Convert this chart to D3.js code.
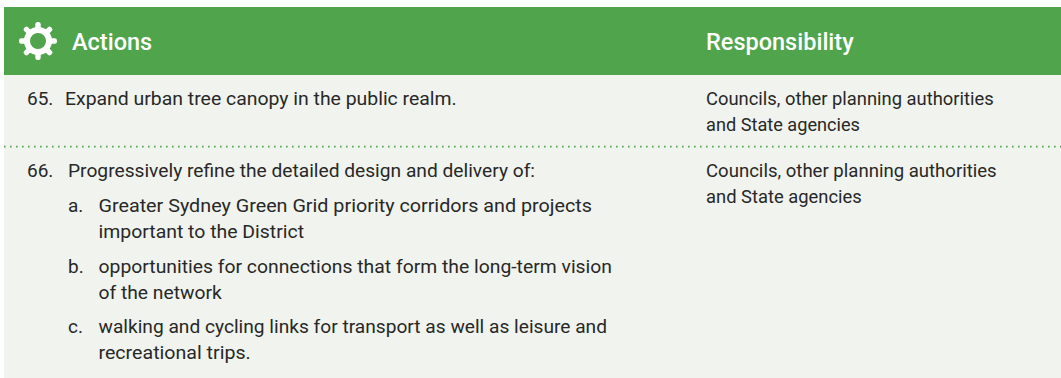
<!DOCTYPE html>
<html>
<head>
<meta charset="utf-8">
<script src="https://cdn.jsdelivr.net/npm/d3@7"></script>
<style>
  html, body { margin: 0; padding: 0; background: #fff; }
  text { font-family: "Roboto", sans-serif; }
</style>
</head>
<body>
<div id="chart"></div>
<script>
// table content
const headers = ['Actions', 'Responsibility'];
const rowNumbers = ['65.', '66.'];
const rowActions = [
  'Expand urban tree canopy in the public realm.',
  'Progressively refine the detailed design and delivery of:',
];
const subLetters = ['a.', 'b.', 'c.'];
const subItems = [
  ['Greater Sydney Green Grid priority corridors and projects', 'important to the District'],
  ['opportunities for connections that form the long-term vision', 'of the network'],
  ['walking and cycling links for transport as well as leisure and', 'recreational trips.'],
];
const responsibility = ['Councils, other planning authorities', 'and State agencies'];

// right edges of the lines, measured on the reference
const rowActionEnds = [456.7, 535];
const subItemEnds = [[592, 304], [612, 221.7], [607, 250.7]];
const responsibilityEnds = [[993.7, 860], [996.7, 861.7]];

const W = 1061, H = 378;
const green = '#50a44b', bg = '#f1f3ee', ink = '#272827';
const fontSize = 19, lineH = 26;

const svg = d3.select('#chart').append('svg')
  .attr('width', W).attr('height', H)
  .style('display', 'block');

svg.append('rect').attr('x', 4).attr('y', 7).attr('width', W - 4).attr('height', H - 7).attr('fill', bg);
svg.append('rect').attr('x', 4).attr('y', 7).attr('width', W - 4).attr('height', 68).attr('fill', green);

// gear icon
const gear = svg.append('g').attr('transform', 'translate(38,41)');
gear.selectAll('rect').data(d3.range(8)).enter().append('rect')
  .attr('x', -2.7).attr('y', -19).attr('width', 5.4).attr('height', 9).attr('rx', 2.2)
  .attr('fill', '#fff')
  .attr('transform', d => `rotate(${d * 45})`);
gear.append('circle').attr('r', 11).attr('fill', 'none').attr('stroke', '#fff').attr('stroke-width', 6);

// header
svg.selectAll('.head').data(headers).enter().append('text')
  .attr('class', 'head')
  .attr('x', (d, i) => i === 0 ? 72 : 706)
  .attr('y', 50)
  .attr('font-size', 23.5).attr('font-weight', 500).attr('fill', '#fff')
  .text(d => d);

// dotted separator
svg.append('line').attr('x1', 4).attr('x2', W).attr('y1', 146.6).attr('y2', 146.6)
  .attr('stroke', green).attr('stroke-width', 1.6)
  .attr('stroke-dasharray', '1.6 4.4');

const addText = (x, y, s, end) => {
  const t = svg.append('text').attr('x', x).attr('y', y)
    .attr('font-size', fontSize).attr('fill', ink).text(s);
  if (end) t.attr('textLength', end - x).attr('lengthAdjust', 'spacingAndGlyphs');
};

const rowY = [105, 177];
const rowX = [65, 68];
rowNumbers.forEach((n, i) => {
  addText(27, rowY[i], n);
  addText(rowX[i], rowY[i], rowActions[i], rowActionEnds[i]);
  responsibility.forEach((s, j) => addText(706, rowY[i] + j * lineH, s, responsibilityEnds[i][j]));
});

const subY = [212, 273, 333];
subLetters.forEach((l, i) => {
  addText(68, subY[i], l);
  subItems[i].forEach((s, j) => addText(98.5, subY[i] + j * lineH, s, subItemEnds[i][j]));
});
</script>
</body>
</html>
